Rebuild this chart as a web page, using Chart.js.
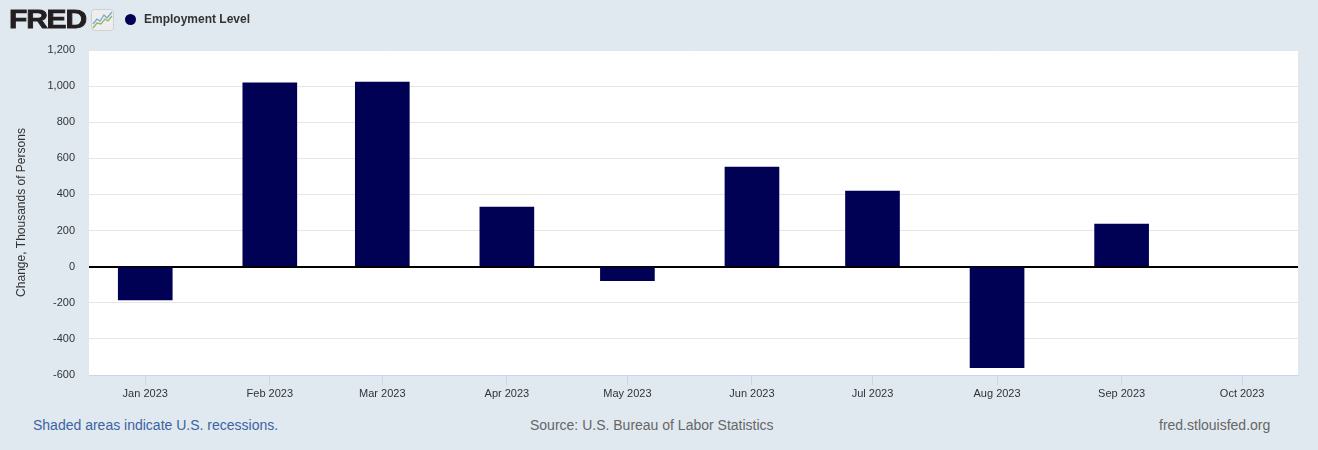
<!DOCTYPE html>
<html lang="en">
<head>
    <meta charset="UTF-8">
    <title>Employment Level - FRED</title>
    <style>
        body {
            margin: 0;
            padding: 0;
            width: 1318px;
            height: 450px;
            background-color: #e1e9f0;
            font-family: Arial, "Liberation Sans", sans-serif;
            position: relative;
            overflow: hidden;
        }
        .logo {
            position: absolute;
            left: 9px;
            top: 5px;
            font-family: "Liberation Sans", Arial, sans-serif;
            font-weight: bold;
            font-size: 25px;
            letter-spacing: -1px;
            color: #231f20;
            -webkit-text-stroke: 0.8px #231f20;
            transform: scaleX(1.2);
            transform-origin: left;
        }
        .logo-icon {
            position: absolute;
            left: 91px;
            top: 9px;
        }
        .legend {
            position: absolute;
            left: 125px;
            top: 12px;
            font-size: 12px;
            font-weight: bold;
            color: #333;
            display: flex;
            align-items: center;
        }
        .legend .dot {
            width: 11px;
            height: 11px;
            border-radius: 50%;
            background: #000055;
            margin-right: 8px;
        }
        .chart-box {
            position: absolute;
            left: 0;
            top: 0;
            width: 1318px;
            height: 410px;
        }
        .footer {
            position: absolute;
            top: 417px;
            font-size: 14px;
            color: #666;
        }
    </style>
</head>
<body>
    <div class="chart-box"><canvas id="fredChart"></canvas></div>

    <div class="logo">FRED</div>
    <svg class="logo-icon" width="23" height="22" viewBox="0 0 23 22">
        <rect x="0.5" y="0.5" width="22" height="21" rx="3" fill="#eeeeee" stroke="#d0d0d0"/>
        <polyline points="2,15 6,10 9,12 13,6 16,9 21,3" fill="none" stroke="#7da7c9" stroke-width="1.3"/>
        <polyline points="2,19 6,14 10,15 14,10 17,12 21,7" fill="none" stroke="#8cb86b" stroke-width="1.3"/>
    </svg>
    <div class="legend"><span class="dot"></span>Employment Level</div>

    <div class="footer" style="left: 33px; color: #3b63a3;">Shaded areas indicate U.S. recessions.</div>
    <div class="footer" style="left: 530px;">Source: U.S. Bureau of Labor Statistics</div>
    <div class="footer" style="left: 1159px;">fred.stlouisfed.org</div>

    <script src="https://cdn.jsdelivr.net/npm/chart.js"></script>
    <script>
        // months shown on the x axis (Oct 2023 has no observation yet)
        const months = ['2023-01-01', '2023-02-01', '2023-03-01', '2023-04-01', '2023-05-01',
                        '2023-06-01', '2023-07-01', '2023-08-01', '2023-09-01', '2023-10-01'];
        const monthLabels = ['Jan 2023', 'Feb 2023', 'Mar 2023', 'Apr 2023', 'May 2023',
                             'Jun 2023', 'Jul 2023', 'Aug 2023', 'Sep 2023', 'Oct 2023'];
        // change in employment level, thousands of persons
        const changeValues = [-184, 1018, 1022, 330, -77, 552, 418, -560, 236, null];
        const yTicks = [-600, -400, -200, 0, 200, 400, 600, 800, 1000, 1200];

        const DAY = 86400000;
        const toDay = s => Date.parse(s + 'T00:00:00Z') / DAY;
        const monthDays = months.map(toDay);

        const points = monthDays.map((d, i) => ({ x: d, y: changeValues[i] }));

        const ctx = document.getElementById('fredChart').getContext('2d');
        new Chart(ctx, {
            type: 'bar',
            data: {
                datasets: [{
                    label: 'Employment Level',
                    data: points,
                    backgroundColor: '#000055',
                    borderWidth: 0,
                    barThickness: 54
                }]
            },
            options: {
                responsive: true,
                maintainAspectRatio: false,
                animation: false,
                layout: { padding: { top: 50, right: 20, left: 0, bottom: 0 } },
                plugins: {
                    legend: { display: false },
                    tooltip: { enabled: false }
                },
                scales: {
                    x: {
                        type: 'linear',
                        offset: false,
                        min: toDay('2022-12-18'),
                        max: toDay('2023-10-14') + 0.9,
                        afterBuildTicks: scale => {
                            scale.ticks = monthDays.map(v => ({ value: v }));
                        },
                        afterFit: scale => { scale.height = 35; },
                        ticks: {
                            autoSkip: false,
                            maxRotation: 0,
                            padding: 2,
                            color: '#333',
                            font: { family: 'Arial, "Liberation Sans"', size: 11 },
                            callback: value => {
                                const i = monthDays.indexOf(value);
                                return i >= 0 ? monthLabels[i] : '';
                            }
                        },
                        grid: {
                            offset: false,
                            drawOnChartArea: false,
                            drawTicks: true,
                            tickLength: 10,
                            color: '#ccd6eb'
                        },
                        border: { display: true, color: '#ccd6eb', width: 1 }
                    },
                    y: {
                        min: -600,
                        max: 1200,
                        afterBuildTicks: scale => {
                            scale.ticks = yTicks.map(v => ({ value: v }));
                        },
                        afterFit: scale => { scale.width = 89; },
                        ticks: {
                            padding: 14,
                            color: '#333',
                            font: { family: 'Arial, "Liberation Sans"', size: 11 },
                            callback: v => v.toLocaleString('en-US')
                        },
                        grid: {
                            drawTicks: false,
                            color: c => c.tick && c.tick.value === 0 ? '#000000' : '#e6e6e6',
                            lineWidth: c => c.tick && c.tick.value === 0 ? 2 : 1
                        },
                        border: { display: false },
                        title: {
                            display: true,
                            text: 'Change, Thousands of Persons',
                            color: '#333',
                            font: { family: 'Arial, "Liberation Sans"', size: 12 },
                            padding: { top: 14, bottom: 0 }
                        }
                    }
                }
            },
            plugins: [{
                id: 'whitePlot',
                beforeDraw: chart => {
                    const a = chart.chartArea;
                    const c = chart.ctx;
                    c.save();
                    c.fillStyle = '#ffffff';
                    c.fillRect(a.left, a.top, a.right - a.left, a.bottom - a.top);
                    c.restore();
                }
            }]
        });
    </script>
</body>
</html>
